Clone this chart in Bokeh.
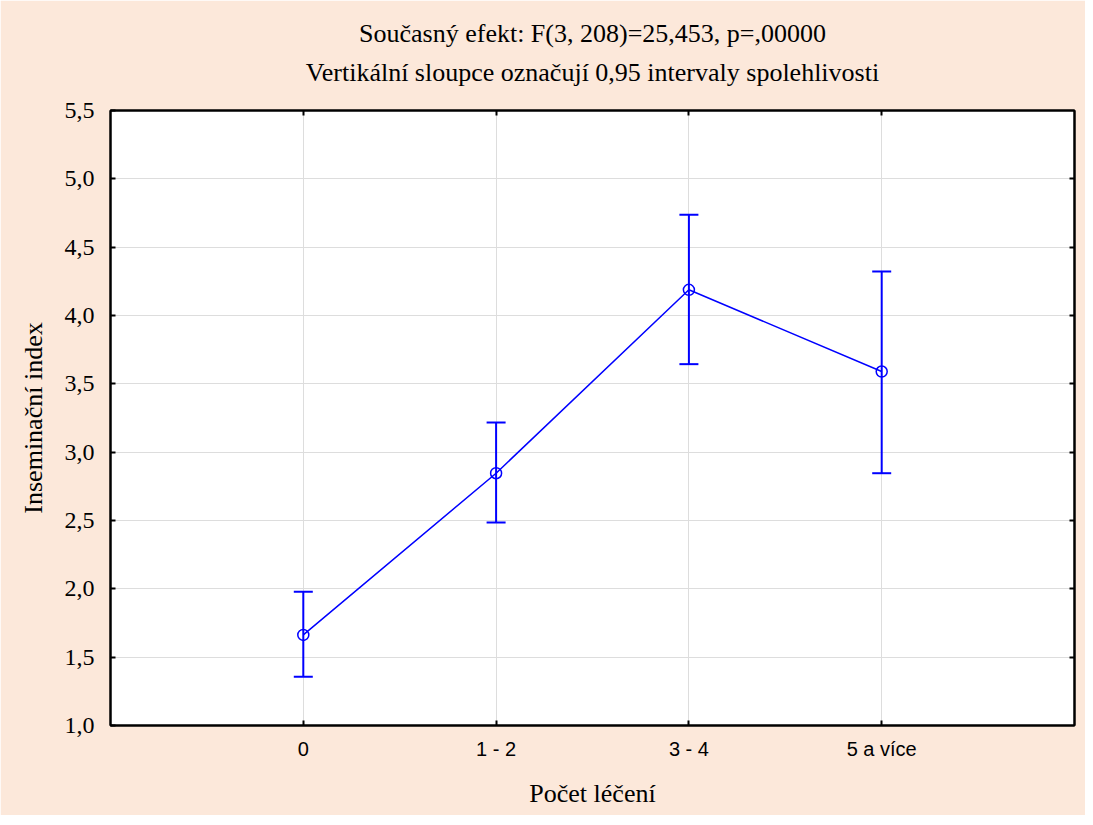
from bokeh.plotting import figure
from bokeh.models import (ColumnDataSource, Whisker, TeeHead, FixedTicker, LinearAxis,
                          Title, CustomJSTickFormatter, Range1d)
from bokeh.embed import file_html
from bokeh.resources import INLINE

categories = ["0", "1 - 2", "3 - 4", "5 a více"]
means = [1.663, 2.846, 4.188, 3.590]
lower = [1.356, 2.485, 3.644, 2.846]
upper = [1.978, 3.217, 4.737, 4.322]
y_ticks = [1.0, 1.5, 2.0, 2.5, 3.0, 3.5, 4.0, 4.5, 5.0, 5.5]

title1 = "Současný efekt: F(3, 208)=25,453, p=,00000"
title2 = "Vertikální sloupce označují 0,95 intervaly spolehlivosti"
x_label = "Počet léčení"
y_label = "Inseminační index"

BG = "#FCE8DA"
BLUE = "#0000FF"
SERIF = "Liberation Serif"
SANS = "Liberation Sans"

xpos = list(range(len(categories)))
src = ColumnDataSource(dict(x=xpos, m=means, lo=lower, hi=upper))

p = figure(width=1085, height=815, output_backend="svg", toolbar_location=None,
           x_range=Range1d(-1, 4), y_range=Range1d(y_ticks[0], y_ticks[-1]),
           background_fill_color="white", border_fill_color=BG,
           min_border_left=110, min_border_right=11, min_border_top=110, min_border_bottom=90)

p.outline_line_color = "black"
p.outline_line_width = 2

# axes
xa = p.xaxis[0]
xa.ticker = FixedTicker(ticks=xpos)
xa.major_label_overrides = {i: c for i, c in zip(xpos, categories)}
xa.major_label_text_font = SANS
xa.major_label_text_font_size = "20px"
xa.major_label_text_color = "black"
xa.major_label_standoff = 12
xa.axis_label = x_label
xa.axis_label_text_font = SERIF
xa.axis_label_text_font_size = "26px"
xa.axis_label_text_font_style = "normal"
xa.axis_label_text_color = "black"
xa.axis_label_standoff = 16

ya = p.yaxis[0]
ya.ticker = FixedTicker(ticks=y_ticks)
ya.formatter = CustomJSTickFormatter(code="return tick.toFixed(1).replace('.', ',');")
ya.major_label_text_font = SERIF
ya.major_label_text_font_size = "24px"
ya.major_label_text_color = "black"
ya.major_label_standoff = 16
ya.axis_label = y_label
ya.axis_label_text_font = SERIF
ya.axis_label_text_font_size = "26px"
ya.axis_label_text_font_style = "normal"
ya.axis_label_text_color = "black"
ya.axis_label_standoff = 14

inner_y = y_ticks[1:-1]
ra = LinearAxis(ticker=FixedTicker(ticks=inner_y))
ra.major_label_overrides = {t: "" for t in inner_y}
ta = LinearAxis(ticker=FixedTicker(ticks=xpos))
ta.major_label_overrides = {i: "" for i in xpos}

for ax in (xa, ya, ra, ta):
    ax.axis_line_color = "black"
    ax.axis_line_width = 2
    ax.major_tick_in = 5
    ax.major_tick_out = 0
    ax.major_tick_line_color = "black"
    ax.major_tick_line_width = 2
    ax.minor_tick_line_color = None
ra.major_label_standoff = 0
ta.major_label_standoff = 0

# above panels stack outward: top axis first, then second title line, then first
p.add_layout(ra, "right")
p.add_layout(ta, "above")
p.add_layout(Title(text=title2, align="center", text_font=SERIF, text_font_size="26px",
                   text_font_style="normal", text_color="black", standoff=48), "above")
p.add_layout(Title(text=title1, align="center", text_font=SERIF, text_font_size="26px",
                   text_font_style="normal", text_color="black", standoff=-32), "above")

p.xgrid.ticker = FixedTicker(ticks=xpos)
p.ygrid.ticker = FixedTicker(ticks=inner_y)
p.grid.grid_line_color = "#DDDDDD"
p.grid.grid_line_width = 1

# error bars
w = Whisker(source=src, base="x", lower="lo", upper="hi", line_color=BLUE, line_width=2,
            upper_head=TeeHead(size=19, line_color=BLUE, line_width=2),
            lower_head=TeeHead(size=19, line_color=BLUE, line_width=2))
p.add_layout(w)

p.line("x", "m", source=src, line_color=BLUE, line_width=1.5)
p.scatter("x", "m", source=src, marker="circle", size=11, fill_color=None,
          line_color=BLUE, line_width=1.5)

open("out.html", "w").write(file_html(p, INLINE))
